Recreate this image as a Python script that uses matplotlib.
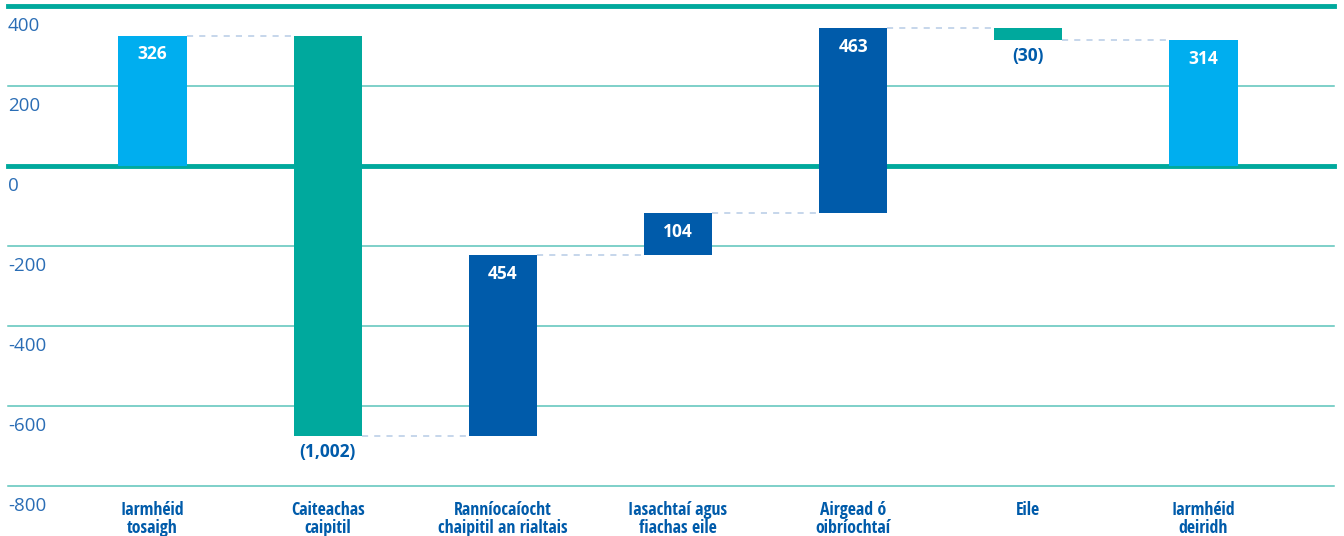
import matplotlib.pyplot as plt
from matplotlib import font_manager

# Waterfall: iarmhéid tosaigh -> iarmhéid deiridh
catagoiri = ['Iarmhéid\ntosaigh', 'Caiteachas\ncaipitil', 'Ranníocaíocht\nchaipitil an rialtais',
             'Iasachtaí agus\nfiachas eile', 'Airgead ó\noibríochtaí', 'Eile', 'Iarmhéid\ndeiridh']
luachanna = [326, -1002, 454, 104, 463, -30, 314]
cineal = ['iomlan', 'athru', 'athru', 'athru', 'athru', 'athru', 'iomlan']
lipeid = ['326', '(1,002)', '454', '104', '463', '(30)', '314']
ticeanna_y = [400, 200, 0, -200, -400, -600, -800]

GORM_EADROM = '#00AEEF'
TEAL = '#00A99D'
GORM_DORCHA = '#005BAA'
GORM_TEXT = '#2A6DB5'


def cló_cung():
    """Bold condensed font for the category labels, if one is installed"""
    for tosaiocht in ('Open Sans', 'Noto Sans', 'DejaVu Sans', 'Liberation Sans Narrow'):
        for f in font_manager.fontManager.ttflist:
            if not f.name.startswith(tosaiocht):
                continue
            cung = ('ondensed' in f.fname or 'Narrow' in f.name
                    or str(f.stretch) in ('condensed', 'semi-condensed', '75', '87.5'))
            trom = f.weight in ('bold', 700, '700') or 'Bold' in f.fname
            if cung and trom and 'Italic' not in f.fname and 'Extra' not in f.fname \
                    and 'Semi' not in f.fname:
                return font_manager.FontProperties(fname=f.fname, size=12.8)
    return font_manager.FontProperties(family='Open Sans', weight='bold', size=12)


fp_cat = cló_cung()

fig = plt.figure(figsize=(13.44, 5.36), dpi=100)
ax = fig.add_axes([8 / 1344, (536 - 486) / 536, (1334 - 8) / 1344, 480 / 536])
ax.set_xlim(-0.825, 6.745)
ax.set_ylim(-800, 400)

# Gridlines
for t in ticeanna_y:
    if t in (0, 400):
        ax.axhline(t, color=TEAL, linewidth=3.5, zorder=1, clip_on=False)
    else:
        ax.axhline(t, color='#5BC4BA', linewidth=1.1, zorder=1, clip_on=False)
    ax.annotate(str(t), xy=(0, t), xycoords=('axes fraction', 'data'),
                xytext=(0, -8), textcoords='offset points', ha='left', va='top',
                fontsize=13.5, color=GORM_TEXT, family='Open Sans')

# Compute bars
bunanna, barrai = [], []
reatha = 0
for v, c in zip(luachanna, cineal):
    if c == 'iomlan':
        bunanna.append(0)
        barrai.append(v)
        reatha = v
    else:
        bunanna.append(reatha)
        barrai.append(reatha + v)
        reatha += v

dathanna = []
for i, c in enumerate(cineal):
    if c == 'iomlan':
        dathanna.append(GORM_EADROM)
    elif i in (1, 5):
        dathanna.append(TEAL)
    else:
        dathanna.append(GORM_DORCHA)

leithead = 0.39
x = list(range(len(catagoiri)))
ax.bar(x, [b - a for a, b in zip(bunanna, barrai)], bottom=bunanna, width=leithead,
       color=dathanna, zorder=3)

# Dashed connectors
for i in range(len(x) - 1):
    ax.plot([x[i] + leithead / 2, x[i + 1] - leithead / 2], [barrai[i], barrai[i]],
            linestyle=(0, (4, 4)), color='#B7CCE6', linewidth=1.1, zorder=2)

# Value labels
for i, (v, lip) in enumerate(zip(luachanna, lipeid)):
    barr = max(bunanna[i], barrai[i])
    bun = min(bunanna[i], barrai[i])
    if v >= 0:
        ax.annotate(lip, xy=(x[i], barr), xytext=(0, -7), textcoords='offset points',
                    ha='center', va='top', fontsize=12.5, fontweight='bold',
                    color='white', family='Open Sans', zorder=4)
    else:
        ax.annotate(lip, xy=(x[i], bun), xytext=(0, -5), textcoords='offset points',
                    ha='center', va='top', fontsize=12.5, fontweight='bold',
                    color=GORM_DORCHA, family='Open Sans', zorder=4)

# Category labels below the axis
for i, cat in enumerate(catagoiri):
    ax.annotate(cat, xy=(x[i], -800), xytext=(0, -11), textcoords='offset points',
                ha='center', va='top', fontproperties=fp_cat,
                color=GORM_DORCHA, linespacing=1.0, annotation_clip=False)

ax.axis('off')
fig.savefig('out.png', dpi=100)
